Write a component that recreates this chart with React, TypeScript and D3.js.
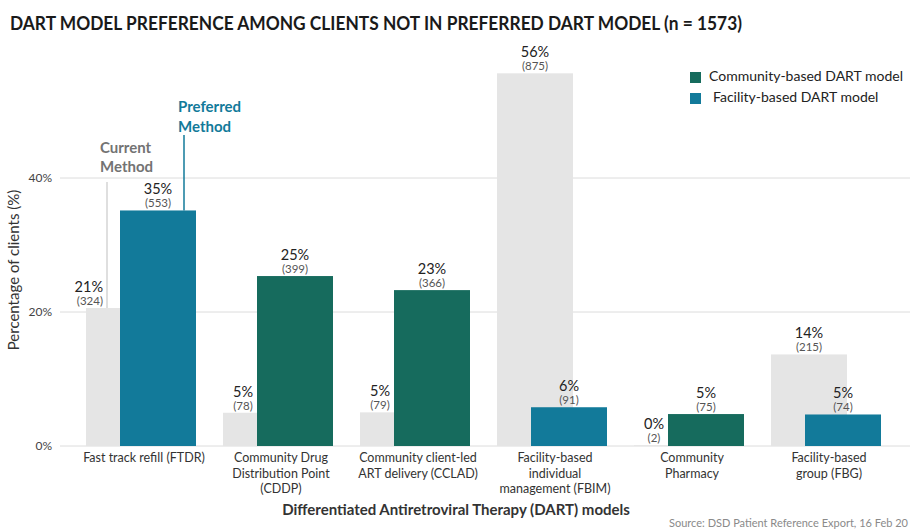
import React from "react";
import * as d3 from "d3";

const TOTAL = 1573;
const categories = ["FTDR", "CDDP", "CCLAD", "FBIM", "CP", "FBG"];
const categoryLabels = [
  ["Fast track refill (FTDR)"],
  ["Community Drug", "Distribution Point", "(CDDP)"],
  ["Community client-led", "ART delivery (CCLAD)"],
  ["Facility-based", "individual", "management (FBIM)"],
  ["Community", "Pharmacy"],
  ["Facility-based", "group (FBG)"],
];
const currentCounts = [324, 78, 79, 875, 2, 215];
const preferredCounts = [553, 399, 366, 91, 75, 74];
const preferredType = ["facility", "community", "community", "facility", "community", "facility"];
const yTicks = [0, 20, 40];

const COLORS: Record<string, string> = {
  community: "#166b5d",
  facility: "#127a9a",
  current: "#e5e5e5",
};
const FONT = "Lato, 'Noto Sans', sans-serif";

export default function App() {
  const W = 910;
  const H = 529;
  const y = d3.scaleLinear().domain([0, 40]).range([446, 178]);
  const x = d3.scaleBand<string>().domain(categories).range([72, 894]).paddingInner(0).paddingOuter(0);
  const barW = 76;
  const greyOff = 14;
  const colOff = 48;
  const pct = (c: number) => (c / TOTAL) * 100;

  const currentLineX = (x(categories[0]) as number) + greyOff + 21;
  const prefLineX = (x(categories[0]) as number) + colOff + 64;

  return (
    <svg width={W} height={H} style={{ display: "block", position: "absolute", left: 0, top: 0 }} fontFamily={FONT}>
      <rect width={W} height={H} fill="#fff" />
      <text x={10} y={30} fontSize={19} fontWeight={700} fill="#1a1a1a" textLength={732} lengthAdjust="spacingAndGlyphs">
        DART MODEL PREFERENCE AMONG CLIENTS NOT IN PREFERRED DART MODEL (n = 1573)
      </text>

      {yTicks.map((t) => (
        <g key={t}>
          <line x1={60} x2={910} y1={y(t)} y2={y(t)} stroke="#dcdcdc" strokeWidth={1} />
          <text x={52} y={y(t) + 4} fontSize={12} textAnchor="end" fill="#444">
            {t}%
          </text>
        </g>
      ))}

      <text transform={`translate(19,270) rotate(-90)`} fontSize={15} textAnchor="middle" fill="#333">
        Percentage of clients (%)
      </text>

      {categories.map((c, i) => {
        const x0 = x(c) as number;
        const gx = x0 + greyOff;
        const bx = x0 + colOff;
        const gv = pct(currentCounts[i]);
        const bv = pct(preferredCounts[i]);
        const gTop = y(gv);
        const bTop = y(bv);
        const greyTaller = gv > bv;
        let gAnchor: "middle" | "end" = "middle";
        let gLabelX = greyTaller ? gx + barW / 2 : gx + 20;
        if (i === 0) {
          gAnchor = "end";
          gLabelX = currentLineX - 4;
        }
        return (
          <g key={c}>
            <rect x={gx} y={gTop} width={barW} height={y(0) - gTop} fill={COLORS.current} />
            <rect x={bx} y={bTop} width={barW} height={y(0) - bTop} fill={COLORS[preferredType[i]]} />
            <text x={gLabelX} y={gTop - 16} fontSize={14.5} textAnchor={gAnchor} fill="#222">
              {Math.round(gv)}%
            </text>
            <text x={gLabelX} y={gTop - 3} fontSize={11.5} textAnchor={gAnchor} fill="#555">
              ({currentCounts[i]})
            </text>
            <text x={bx + barW / 2} y={bTop - 16} fontSize={14.5} textAnchor="middle" fill="#222">
              {Math.round(bv)}%
            </text>
            <text x={bx + barW / 2} y={bTop - 3} fontSize={11.5} textAnchor="middle" fill="#555">
              ({preferredCounts[i]})
            </text>
            {categoryLabels[i].map((l, k) => (
              <text key={k} x={x0 + 72} y={462 + k * 15.5} fontSize={12.5} textAnchor="middle" fill="#333">
                {l}
              </text>
            ))}
          </g>
        );
      })}

      {/* annotations */}
      <line x1={currentLineX} x2={currentLineX} y1={182} y2={y(pct(currentCounts[0]))} stroke="#d4d4d4" strokeWidth={1.5} />
      <text x={100} y={153} fontSize={15} fontWeight={700} fill="#737373">
        <tspan x={100}>Current</tspan>
        <tspan x={100} dy={19}>Method</tspan>
      </text>
      <line x1={prefLineX} x2={prefLineX} y1={135} y2={y(pct(preferredCounts[0]))} stroke={COLORS.facility} strokeWidth={1.5} />
      <text x={178} y={112} fontSize={15} fontWeight={700} fill={COLORS.facility}>
        <tspan x={178}>Preferred</tspan>
        <tspan x={178} dy={20}>Method</tspan>
      </text>

      {/* legend */}
      <rect x={690} y={72} width={11} height={11} fill={COLORS.community} />
      <text x={709} y={81} fontSize={14} fill="#222">Community-based DART model</text>
      <rect x={690} y={93} width={11} height={11} fill={COLORS.facility} />
      <text x={713} y={102} fontSize={14} fill="#222">Facility-based DART model</text>

      <text x={456} y={515} fontSize={15} fontWeight={700} textAnchor="middle" fill="#333">
        Differentiated Antiretroviral Therapy (DART) models
      </text>
      <text x={908} y={527} fontSize={11} textAnchor="end" fill="#8a8a8a">
        Source: DSD Patient Reference Export, 16 Feb 20
      </text>
    </svg>
  );
}
